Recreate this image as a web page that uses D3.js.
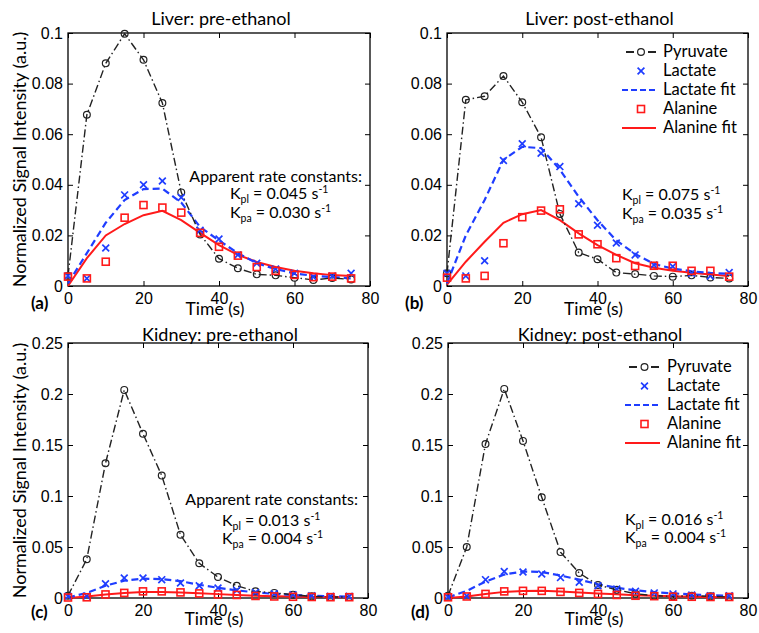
<!DOCTYPE html>
<html>
<head>
<meta charset="utf-8">
<script src="https://cdn.jsdelivr.net/npm/d3@7"></script>
<style>
  body { margin: 0; background: #fff; }
  text { font-family: Lato, "Open Sans", sans-serif; fill: #000; }
  .tick text { font-family: "Liberation Sans", Arial, sans-serif; font-size: 16px; }
</style>
</head>
<body>
<svg id="fig" width="759" height="633"></svg>
<script>
// sample times (s)
const times = [0, 5, 10, 15, 20, 25, 30, 35, 40, 45, 50, 55, 60, 65, 70, 75];

// Liver, pre-ethanol
const liverPrePyruvate = [0.004, 0.0677, 0.088, 0.0997, 0.0894, 0.0723, 0.037, 0.0204, 0.0108, 0.007, 0.0046, 0.0042, 0.0033, 0.0024, 0.0032, 0.0026];
const liverPreLactate = [0.004, 0.003, 0.015, 0.036, 0.040, 0.0415, 0.035, 0.022, 0.0186, 0.0123, 0.009, 0.0067, 0.005, 0.0036, 0.004, 0.005];
const liverPreLactateFit = [0.001, 0.013, 0.025, 0.034, 0.0383, 0.0385, 0.033, 0.0233, 0.018, 0.013, 0.009, 0.0067, 0.005, 0.004, 0.0035, 0.003];
const liverPreAlanine = [0.0037, 0.003, 0.0096, 0.027, 0.032, 0.031, 0.029, 0.021, 0.0155, 0.012, 0.0075, 0.006, 0.0044, 0.0035, 0.0037, 0.003];
const liverPreAlanineFit = [0.0, 0.011, 0.020, 0.0245, 0.028, 0.0297, 0.026, 0.021, 0.0162, 0.0123, 0.0095, 0.0075, 0.006, 0.005, 0.0043, 0.004];

// Liver, post-ethanol
const liverPostPyruvate = [0.005, 0.0736, 0.075, 0.083, 0.0726, 0.0588, 0.0285, 0.0132, 0.0106, 0.0053, 0.0047, 0.004, 0.0037, 0.0042, 0.0034, 0.003];
const liverPostLactate = [0.005, 0.004, 0.010, 0.0496, 0.0562, 0.0525, 0.0472, 0.0325, 0.024, 0.017, 0.0123, 0.0083, 0.0077, 0.005, 0.004, 0.0053];
const liverPostLactateFit = [0.001, 0.020, 0.034, 0.0499, 0.055, 0.0545, 0.046, 0.0353, 0.026, 0.018, 0.0127, 0.0087, 0.0069, 0.0058, 0.0052, 0.0048];
const liverPostAlanine = [0.0033, 0.003, 0.004, 0.0169, 0.0272, 0.0298, 0.0303, 0.0204, 0.0165, 0.011, 0.0079, 0.008, 0.008, 0.006, 0.006, 0.0037];
const liverPostAlanineFit = [0.0005, 0.0096, 0.0175, 0.025, 0.0284, 0.030, 0.026, 0.0208, 0.0162, 0.0123, 0.009, 0.0072, 0.006, 0.0052, 0.0045, 0.004];

// Kidney, pre-ethanol
const kidneyPrePyruvate = [0.0023, 0.038, 0.132, 0.204, 0.161, 0.120, 0.062, 0.034, 0.0206, 0.012, 0.0065, 0.005, 0.0033, 0.0016, 0.001, 0.001];
const kidneyPreLactate = [0.0016, 0.002, 0.014, 0.0196, 0.0196, 0.018, 0.0147, 0.012, 0.0098, 0.0075, 0.0055, 0.0042, 0.0033, 0.0023, 0.0016, 0.0016];
const kidneyPreLactateFit = [0.0005, 0.005, 0.012, 0.017, 0.019, 0.0185, 0.0165, 0.013, 0.010, 0.0075, 0.0055, 0.004, 0.003, 0.0022, 0.0017, 0.0013];
const kidneyPreAlanine = [0.0005, 0.0007, 0.0035, 0.005, 0.0065, 0.0065, 0.0055, 0.0045, 0.0035, 0.003, 0.002, 0.0015, 0.0012, 0.001, 0.0008, 0.0008];
const kidneyPreAlanineFit = [0.0, 0.0015, 0.0035, 0.005, 0.0058, 0.006, 0.0055, 0.0047, 0.0038, 0.003, 0.0023, 0.0018, 0.0014, 0.0011, 0.0009, 0.0007];

// Kidney, post-ethanol
const kidneyPostPyruvate = [0.0023, 0.050, 0.151, 0.205, 0.154, 0.0987, 0.045, 0.0245, 0.0127, 0.008, 0.0042, 0.0023, 0.0016, 0.0023, 0.0016, 0.001];
const kidneyPostLactate = [0.001, 0.002, 0.018, 0.026, 0.0255, 0.0235, 0.020, 0.0154, 0.012, 0.0088, 0.0065, 0.005, 0.004, 0.003, 0.0023, 0.0023];
const kidneyPostLactateFit = [0.0005, 0.007, 0.016, 0.023, 0.026, 0.0255, 0.022, 0.018, 0.0135, 0.010, 0.0075, 0.0058, 0.0045, 0.0035, 0.0028, 0.0022];
const kidneyPostAlanine = [0.0007, 0.0015, 0.004, 0.0065, 0.007, 0.007, 0.006, 0.005, 0.004, 0.003, 0.0022, 0.0018, 0.0013, 0.0012, 0.001, 0.001];
const kidneyPostAlanineFit = [0.0, 0.0015, 0.004, 0.006, 0.0068, 0.007, 0.0064, 0.0055, 0.0045, 0.0036, 0.0028, 0.0022, 0.0017, 0.0013, 0.001, 0.0008];

// axis ticks
const xTicks = [0, 20, 40, 60, 80];
const liverYTicks = [0, 0.02, 0.04, 0.06, 0.08, 0.1];
const kidneyYTicks = [0, 0.05, 0.1, 0.15, 0.2, 0.25];

const legendLabels = ["Pyruvate", "Lactate", "Lactate fit", "Alanine", "Alanine fit"];

const BLUE = "#1f3dff", RED = "#ff1a1a", DARK = "#222";

const svg = d3.select("#fig");

const panels = [
  {tag: "(a)", title: "Liver: pre-ethanol", yMax: 0.1, yTicks: liverYTicks,
   pyr: liverPrePyruvate, lac: liverPreLactate, lacFit: liverPreLactateFit, ala: liverPreAlanine, alaFit: liverPreAlanineFit,
   box: [68, 33, 370, 286], titleY: 25, timeY: 315, tagX: 31, tagY: 309,
   apparent: [362, 182], kpl: "0.045", kpa: "0.030", kx: 230, ky: [199, 218], legend: null, ylabel: true},
  {tag: "(b)", title: "Liver: post-ethanol", yMax: 0.1, yTicks: liverYTicks,
   pyr: liverPostPyruvate, lac: liverPostLactate, lacFit: liverPostLactateFit, ala: liverPostAlanine, alaFit: liverPostAlanineFit,
   box: [447, 33, 748, 286], titleY: 25, timeY: 315, tagX: 405, tagY: 309,
   apparent: null, kpl: "0.075", kpa: "0.035", kx: 622, ky: [200, 219], legend: [626, 656, 663, 52, 19], ylabel: false},
  {tag: "(c)", title: "Kidney: pre-ethanol", yMax: 0.25, yTicks: kidneyYTicks,
   pyr: kidneyPrePyruvate, lac: kidneyPreLactate, lacFit: kidneyPreLactateFit, ala: kidneyPreAlanine, alaFit: kidneyPreAlanineFit,
   box: [68, 343, 368, 598], titleY: 341, timeY: 625, tagX: 31, tagY: 618,
   apparent: [358, 505], kpl: "0.013", kpa: "0.004", kx: 222, ky: [526, 544], legend: null, ylabel: true},
  {tag: "(d)", title: "Kidney: post-ethanol", yMax: 0.25, yTicks: kidneyYTicks,
   pyr: kidneyPostPyruvate, lac: kidneyPostLactate, lacFit: kidneyPostLactateFit, ala: kidneyPostAlanine, alaFit: kidneyPostAlanineFit,
   box: [448, 343, 748, 598], titleY: 341, timeY: 625, tagX: 411, tagY: 618,
   apparent: null, kpl: "0.016", kpa: "0.004", kx: 625, ky: [525, 543], legend: [629, 660, 667, 367, 19], ylabel: false}
];

function drawCircle(g, cx, cy) {
  g.append("circle").attr("cx", cx).attr("cy", cy).attr("r", 3.4)
    .attr("fill", "none").attr("stroke", DARK).attr("stroke-width", 1.2);
}
function drawCross(g, cx, cy) {
  const s = 3.4;
  g.append("path").attr("d", `M${cx-s},${cy-s}L${cx+s},${cy+s}M${cx-s},${cy+s}L${cx+s},${cy-s}`)
    .attr("stroke", BLUE).attr("stroke-width", 1.7).attr("fill", "none");
}
function drawSquare(g, cx, cy) {
  const s = 3.5;
  g.append("rect").attr("x", cx - s).attr("y", cy - s).attr("width", 2 * s).attr("height", 2 * s)
    .attr("fill", "none").attr("stroke", RED).attr("stroke-width", 1.6);
}

panels.forEach(p => {
  const [x0, y0, x1, y1] = p.box;
  const x = d3.scaleLinear().domain([0, 80]).range([x0, x1]);
  const y = d3.scaleLinear().domain([0, p.yMax]).range([y1, y0]);
  const g = svg.append("g");

  // box + inward ticks on all sides
  g.append("g").attr("transform", `translate(0,${y1})`)
    .call(d3.axisBottom(x).tickValues(xTicks).tickSizeInner(-5).tickSizeOuter(0).tickPadding(7).tickFormat(d3.format("d")));
  g.append("g").attr("transform", `translate(0,${y0})`)
    .call(d3.axisTop(x).tickValues(xTicks).tickSizeInner(-5).tickSizeOuter(0).tickFormat(""));
  g.append("g").attr("transform", `translate(${x0},0)`)
    .call(d3.axisLeft(y).tickValues(p.yTicks).tickSizeInner(-5).tickSizeOuter(0).tickPadding(5).tickFormat(d => d === 0 ? "0" : String(d)));
  g.append("g").attr("transform", `translate(${x1},0)`)
    .call(d3.axisRight(y).tickValues(p.yTicks).tickSizeInner(-5).tickSizeOuter(0).tickFormat(""));
  g.selectAll(".domain").remove();
  g.selectAll(".tick line").attr("stroke", "#000");
  g.append("rect").attr("x", x0).attr("y", y0).attr("width", x1 - x0).attr("height", y1 - y0)
    .attr("fill", "none").attr("stroke", "#000").attr("stroke-width", 1.3);

  const line = d3.line().x((d, i) => x(times[i])).y(d => y(d));

  // fits
  g.append("path").datum(p.alaFit).attr("d", line)
    .attr("fill", "none").attr("stroke", RED).attr("stroke-width", 2);
  g.append("path").datum(p.lacFit).attr("d", line)
    .attr("fill", "none").attr("stroke", BLUE).attr("stroke-width", 2.2).attr("stroke-dasharray", "7,4");
  // pyruvate dash-dot
  g.append("path").datum(p.pyr).attr("d", line)
    .attr("fill", "none").attr("stroke", DARK).attr("stroke-width", 1.4).attr("stroke-dasharray", "8,3,1.5,3");

  p.pyr.forEach((v, i) => drawCircle(g, x(times[i]), y(v)));
  p.lac.forEach((v, i) => drawCross(g, x(times[i]), y(v)));
  p.ala.forEach((v, i) => drawSquare(g, x(times[i]), y(v)));

  // title, axis labels, tag
  svg.append("text").attr("x", (x0 + x1) / 2 + 2).attr("y", p.titleY).attr("text-anchor", "middle")
    .style("font-size", "18px").text(p.title);
  svg.append("text").attr("x", (x0 + x1) / 2 - 4).attr("y", p.timeY).attr("text-anchor", "middle")
    .style("font-size", "17.5px").text("Time (s)");
  svg.append("text").attr("x", p.tagX).attr("y", p.tagY)
    .style("font-size", "17px").style("font-weight", "bold").text(p.tag);
  if (p.ylabel) {
    svg.append("text").attr("transform", `translate(26,${(y0 + y1) / 2}) rotate(-90)`)
      .attr("text-anchor", "middle").style("font-size", "18px")
      .text("Normalized Signal Intensity (a.u.)");
  }

  // rate constants
  if (p.apparent) {
    svg.append("text").attr("x", p.apparent[0]).attr("y", p.apparent[1]).attr("text-anchor", "end")
      .style("font-size", "16px").text("Apparent rate constants:");
  }
  [["pl", p.kpl], ["pa", p.kpa]].forEach(([sub, val], k) => {
    const t = svg.append("text").attr("x", p.kx).attr("y", p.ky[k]).style("font-size", "16px");
    t.append("tspan").text("K");
    t.append("tspan").attr("dy", 4).style("font-size", "10.5px").text(sub);
    t.append("tspan").attr("dy", -4).text(" = " + val + " s");
    t.append("tspan").attr("dy", -6).style("font-size", "10.5px").text("-1");
  });

  // legend
  if (p.legend) {
    const [lx0, lx1, tx, ly, step] = p.legend;
    const lg = svg.append("g");
    const cx = (lx0 + lx1) / 2;
    legendLabels.forEach((lab, i) => {
      const yy = ly + i * step;
      if (i === 0) {
        lg.append("line").attr("x1", lx0).attr("x2", lx1).attr("y1", yy).attr("y2", yy)
          .attr("stroke", DARK).attr("stroke-width", 1.8).attr("stroke-dasharray", "8,14,8");
        drawCircle(lg, cx, yy);
      } else if (i === 1) {
        drawCross(lg, cx, yy);
      } else if (i === 2) {
        lg.append("line").attr("x1", lx0 - 4).attr("x2", lx1).attr("y1", yy).attr("y2", yy)
          .attr("stroke", BLUE).attr("stroke-width", 2.2).attr("stroke-dasharray", "6,3");
      } else if (i === 3) {
        drawSquare(lg, cx, yy);
      } else {
        lg.append("line").attr("x1", lx0 - 4).attr("x2", lx1).attr("y1", yy).attr("y2", yy)
          .attr("stroke", RED).attr("stroke-width", 2);
      }
      lg.append("text").attr("x", tx).attr("y", yy + 5).style("font-size", "16.5px").text(lab);
    });
  }
});
</script>
</body>
</html>
